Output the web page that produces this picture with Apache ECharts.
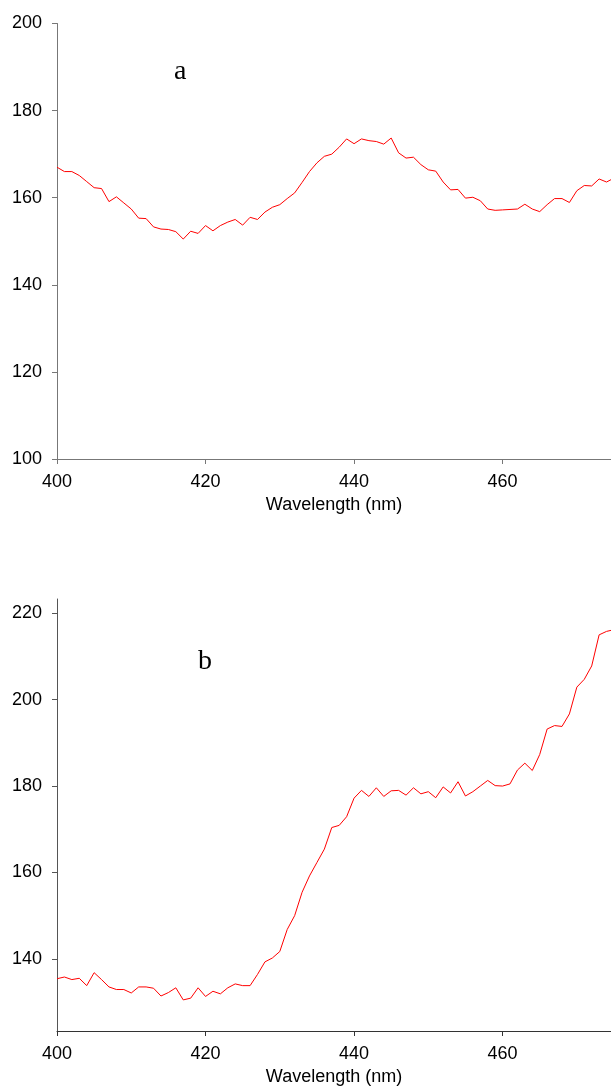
<!DOCTYPE html>
<html>
<head>
<meta charset="utf-8">
<script src="https://cdn.jsdelivr.net/npm/echarts@6/dist/echarts.min.js"></script>
<style>
  html, body { margin: 0; padding: 0; background: #fff; }
  #chart { width: 611px; height: 1087px; }
</style>
</head>
<body>
<div id="chart"></div>
<script>
// wavelengths, 1 nm step
var wavelengths = [];
for (var w = 400; w <= 475; w++) wavelengths.push(w);

// panel a
var seriesA = [
  167.0, 166.0, 166.0, 165.1, 163.7, 162.3, 162.1, 159.1, 160.2, 158.8,
  157.4, 155.3, 155.2, 153.3, 152.8, 152.7, 152.2, 150.5, 152.3, 151.8,
  153.6, 152.4, 153.6, 154.4, 155.0, 153.7, 155.5, 155.0, 156.7, 157.8,
  158.4, 159.8, 161.1, 163.5, 166.0, 168.0, 169.5, 170.0, 171.6, 173.5,
  172.4, 173.5, 173.1, 172.9, 172.3, 173.7, 170.3, 169.1, 169.3, 167.6,
  166.4, 166.1, 163.6, 161.8, 161.9, 159.9, 160.1, 159.3, 157.4, 157.1,
  157.2, 157.3, 157.4, 158.5, 157.4, 156.8, 158.4, 159.8, 159.8, 158.9,
  161.6, 162.8, 162.7, 164.3, 163.6, 164.5
];

// panel b
var seriesB = [
  135.4, 135.8, 135.2, 135.5, 133.8, 136.8, 135.2, 133.5, 132.9, 132.9,
  132.1, 133.5, 133.5, 133.2, 131.4, 132.2, 133.3, 130.5, 130.9, 133.3,
  131.3, 132.5, 131.9, 133.3, 134.2, 133.8, 133.8, 136.4, 139.3, 140.2,
  141.7, 146.8, 150.0, 155.4, 159.2, 162.3, 165.4, 170.4, 170.9, 172.9,
  177.2, 179.0, 177.6, 179.6, 177.6, 178.9, 179.0, 177.9, 179.6, 178.2,
  178.7, 177.3, 179.8, 178.4, 181.0, 177.7, 178.7, 180.0, 181.3, 180.1,
  180.0, 180.5, 183.7, 185.3, 183.6, 187.3, 193.2, 194.0, 193.8, 196.7,
  202.9, 204.7, 207.8, 215.0, 215.8, 216.2
];

var yTicksA = [100, 120, 140, 160, 180, 200];
var yTicksB = [140, 160, 180, 200, 220];

function pairs(ys) {
  return wavelengths.map(function (x, i) { return [x, ys[i]]; });
}

var labelFont = { fontFamily: 'Liberation Sans, Arial, sans-serif', fontSize: 18, color: '#000' };

function xAxis(gridIndex, lineColor) {
  return {
    type: 'value', gridIndex: gridIndex, min: 400, max: 474.6, interval: 20,
    name: 'Wavelength (nm)', nameLocation: 'middle', nameGap: 37,
    nameTextStyle: labelFont,
    axisLine: { show: true, onZero: false, lineStyle: { color: lineColor, width: 1 } },
    axisTick: { show: true, length: 5, lineStyle: { color: lineColor } },
    axisLabel: Object.assign({ margin: 14, showMaxLabel: false }, labelFont),
    splitLine: { show: false }
  };
}

function yAxis(gridIndex, min, max, ticks, lineColor) {
  return {
    type: 'value', gridIndex: gridIndex, min: min, max: max,
    axisLine: { show: true, lineStyle: { color: lineColor, width: 1 } },
    axisTick: { show: true, length: 5, customValues: ticks, lineStyle: { color: lineColor } },
    axisLabel: Object.assign({ margin: 15, customValues: ticks }, labelFont),
    splitLine: { show: false }
  };
}

var myChart = echarts.init(document.getElementById('chart'));
var option = {
  animation: false,
  backgroundColor: '#fff',
  grid: [
    { left: 57, top: 23.5, width: 554, height: 435.5 },
    { left: 57, top: 599, width: 554, height: 434.3 }
  ],
  xAxis: [xAxis(0, '#777'), xAxis(1, '#333')],
  yAxis: [
    yAxis(0, 100, 200, yTicksA, '#777'),
    yAxis(1, 123.3, 223.3, yTicksB, '#555')
  ],
  graphic: [
    { type: 'text', left: 174, top: 58, style: { text: 'a', font: '28px "Liberation Serif", "DejaVu Serif", serif', fill: '#000' } },
    { type: 'text', left: 198, top: 648, style: { text: 'b', font: '28px "Liberation Serif", "DejaVu Serif", serif', fill: '#000' } }
  ],
  series: [
    {
      type: 'line', xAxisIndex: 0, yAxisIndex: 0, data: pairs(seriesA),
      showSymbol: false, clip: true, lineStyle: { color: '#ff0000', width: 1 }
    },
    {
      type: 'line', xAxisIndex: 1, yAxisIndex: 1, data: pairs(seriesB),
      showSymbol: false, clip: true, lineStyle: { color: '#ff0000', width: 1 }
    }
  ]
};
myChart.setOption(option);
</script>
</body>
</html>
